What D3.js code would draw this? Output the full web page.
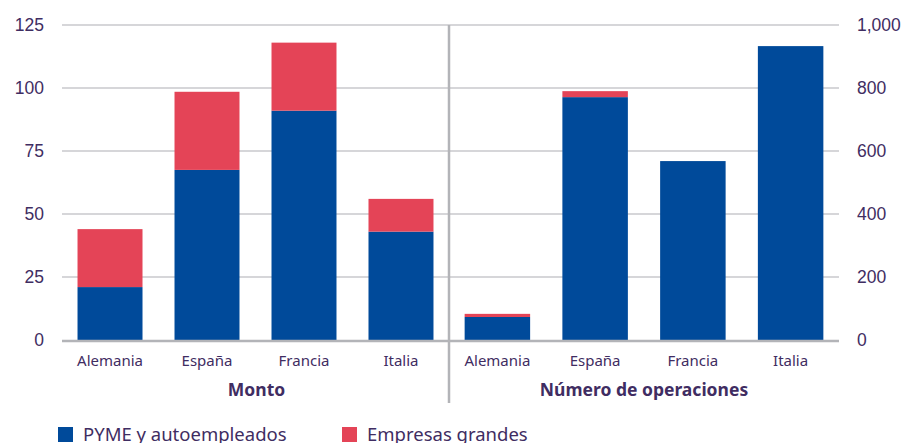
<!DOCTYPE html>
<html>
<head>
<meta charset="utf-8">
<script src="https://cdn.jsdelivr.net/npm/d3@7"></script>
<style>
  body { margin: 0; background: #fff; }
  svg { font-family: "Noto Sans", "Open Sans", sans-serif; }
  .tick text { fill: #3f2d62; }
</style>
</head>
<body>
<div id="chart"></div>
<script>
// data
const countries = ["Alemania", "España", "Francia", "Italia"];
const montoPyme    = [21, 67.5, 91, 43];
const montoGrandes = [23, 31, 27, 13];
const operPyme     = [73, 771, 568, 933];
const operGrandes  = [10, 19, 0, 0];
const leftTicks  = [0, 25, 50, 75, 100, 125];
const rightTicks = [0, 200, 400, 600, 800, 1000];
const seriesNames = ["PYME y autoempleados", "Empresas grandes"];

const width = 906, height = 443;
const blue = "#004a9a", red = "#e44457", textColor = "#3f2d62";
const gridColor = "#c8c9cd";

const svg = d3.select("#chart").append("svg")
    .attr("width", width)
    .attr("height", height);

const plotTop = 25, plotBottom = 340;
const leftX0 = 62, midX = 449, rightX1 = 839;

const yLeft = d3.scaleLinear().domain([0, 125]).range([plotBottom, plotTop]);
const yRight = d3.scaleLinear().domain([0, 1000]).range([plotBottom, plotTop]);

const xLeft = d3.scaleBand().domain(countries).range([leftX0, midX]).paddingInner(0.33).paddingOuter(0.16);
const xRight = d3.scaleBand().domain(countries).range([midX, rightX1]).paddingInner(0.33).paddingOuter(0.16);

// gridlines
svg.append("g")
    .selectAll("line")
    .data(leftTicks.filter(d => d > 0))
    .join("line")
    .attr("x1", leftX0).attr("x2", rightX1)
    .attr("y1", d => yLeft(d)).attr("y2", d => yLeft(d))
    .attr("stroke", gridColor)
    .attr("stroke-width", 1.3);

// left axis labels
svg.append("g")
    .attr("transform", `translate(${leftX0 - 18},0)`)
    .call(d3.axisLeft(yLeft).tickValues(leftTicks).tickSize(0).tickPadding(0))
    .call(g => g.select(".domain").remove())
    .selectAll("text")
    .attr("font-size", 17.5)
    .attr("fill", textColor);

// right axis labels
svg.append("g")
    .attr("transform", `translate(${rightX1 + 18},0)`)
    .call(d3.axisRight(yRight).tickValues(rightTicks).tickSize(0).tickPadding(0).tickFormat(d3.format(",")))
    .call(g => g.select(".domain").remove())
    .selectAll("text")
    .attr("font-size", 17.5)
    .attr("fill", textColor);

// stacked bars
function drawBars(x, y, pyme, grandes) {
    const rows = countries.map((c, i) => ({name: c, pyme: pyme[i], grandes: grandes[i]}));
    const stack = d3.stack().keys(["pyme", "grandes"])(rows);
    const colors = [blue, red];
    svg.append("g")
        .selectAll("g")
        .data(stack)
        .join("g")
        .attr("fill", (d, i) => colors[i])
        .selectAll("rect")
        .data(d => d)
        .join("rect")
        .attr("x", d => x(d.data.name))
        .attr("width", x.bandwidth())
        .attr("y", d => y(d[1]))
        .attr("height", d => y(d[0]) - y(d[1]));

    // category labels
    svg.append("g")
        .selectAll("text")
        .data(countries)
        .join("text")
        .attr("x", d => x(d) + x.bandwidth() / 2)
        .attr("y", 366)
        .attr("text-anchor", "middle")
        .attr("font-size", 15)
        .attr("fill", textColor)
        .text(d => d);
}

drawBars(xLeft, yLeft, montoPyme, montoGrandes);
drawBars(xRight, yRight, operPyme, operGrandes);

// baseline
svg.append("line")
    .attr("x1", leftX0).attr("x2", rightX1)
    .attr("y1", plotBottom + 1).attr("y2", plotBottom + 1)
    .attr("stroke", "#b3b4b8")
    .attr("stroke-width", 2.5);

// divider
svg.append("line")
    .attr("x1", midX).attr("x2", midX)
    .attr("y1", plotTop).attr("y2", 403)
    .attr("stroke", "#b3b4b8")
    .attr("stroke-width", 2.5);

// group titles
svg.append("text")
    .attr("x", (leftX0 + midX) / 2 + 1)
    .attr("y", 396)
    .attr("text-anchor", "middle")
    .attr("font-size", 17.5)
    .attr("font-weight", "bold")
    .attr("fill", textColor)
    .text("Monto");

svg.append("text")
    .attr("x", (midX + rightX1) / 2)
    .attr("y", 396)
    .attr("text-anchor", "middle")
    .attr("font-size", 17.5)
    .attr("font-weight", "bold")
    .attr("fill", textColor)
    .text("Número de operaciones");

// legend
const legendX = [58, 342];
const legend = svg.append("g")
    .selectAll("g")
    .data(seriesNames)
    .join("g")
    .attr("transform", (d, i) => `translate(${legendX[i]},427)`);

legend.append("rect")
    .attr("width", 15).attr("height", 15)
    .attr("fill", (d, i) => [blue, red][i]);

legend.append("text")
    .attr("x", 25)
    .attr("y", 14)
    .attr("font-size", 18.5)
    .attr("fill", textColor)
    .text(d => d);
</script>
</body>
</html>
